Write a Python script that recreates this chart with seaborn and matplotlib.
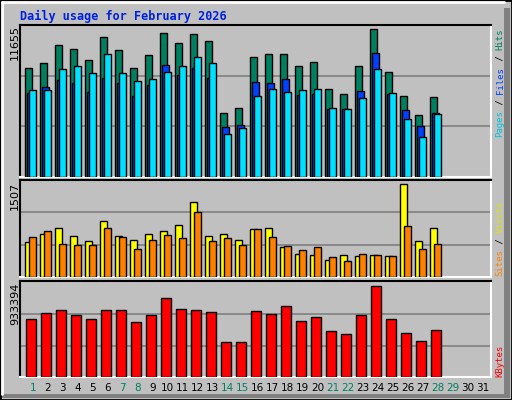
import matplotlib
matplotlib.use("Agg")
import matplotlib.pyplot as plt
import seaborn as sns
import numpy as np
from matplotlib.patches import Rectangle
from matplotlib.lines import Line2D

sns.set_style("white")
plt.rcParams['font.family'] = ['DejaVu Sans']

days = list(range(1, 32))
n_data = 28
hits = [8391, 8777, 10090, 9781, 9009, 10708, 9704, 8391, 9318, 11016, 10244, 10939, 10399, 4918,
        5304, 9164, 9395, 9395, 8546, 8855, 6770, 6384, 8546, 11325, 8083, 6230, 4763, 6153]
files = [6462, 6925, 7465, 7234, 6539, 7620, 7234, 6230, 7079, 8623, 7851, 8392, 7620, 3837,
         3991, 7311, 7234, 7542, 6307, 6384, 5226, 5226, 6616, 9472, 6384, 5149, 3914, 4918]
pages = [6693, 6693, 8314, 8546, 8006, 9395, 8006, 7388, 7542, 8083, 8546, 9164, 8778, 3296,
         3760, 6230, 6770, 6539, 6693, 6770, 5304, 5226, 6076, 8314, 6462, 4454, 3065, 4840]
visits = [549, 675, 754, 644, 565, 863, 644, 581, 675, 722, 801, 1162, 644, 675, 581, 738, 769,
          471, 361, 345, 267, 345, 330, 345, 330, 1444, 565, 754]
sites = [628, 722, 518, 502, 502, 754, 628, 440, 581, 659, 612, 1005, 565, 612, 502, 738, 628,
         487, 424, 471, 314, 251, 361, 345, 330, 785, 440, 518]
kbytes = [575000, 634000, 664000, 615000, 575000, 664000, 664000, 546000, 615000, 782000, 674000,
          664000, 644000, 348000, 348000, 654000, 625000, 703000, 556000, 595000, 457000, 427000,
          615000, 901000, 575000, 437000, 358000, 467000]
max_hits = 11655
max_visits = 1507
max_kb = 933394
weekend_days = [1, 7, 8, 14, 15, 21, 22, 28, 29]
title = "Daily usage for February 2026"

BG = "#c0c0c0"
W, H = 512, 400
fig = plt.figure(figsize=(W / 100, H / 100), dpi=100)
fig.patch.set_facecolor(BG)

# outer frame / bevel
fig.add_artist(Rectangle((0, 0), 1, 1, transform=fig.transFigure, fill=False, ec="black", lw=2))
fig.add_artist(Line2D([2/W, 1 - 8/W], [1 - 2/H, 1 - 2/H], transform=fig.transFigure, color="white", lw=2))
fig.add_artist(Line2D([2/W, 2/W], [6/H, 1 - 2/H], transform=fig.transFigure, color="white", lw=2))
fig.add_artist(Rectangle((1 - 8/W, 2/H), 6/W, 1 - 10/H, transform=fig.transFigure, color="#808080", lw=0))
fig.add_artist(Rectangle((2/W, 2/H), 1 - 4/W, 4/H, transform=fig.transFigure, color="#808080", lw=0))

def panel(y0, y1):
    ax = fig.add_axes([20 / W, 1 - y1 / H, 471 / W, (y1 - y0) / H])
    ax.set_facecolor(BG)
    ax.set_xlim(0, 31.4)
    for s in ["top", "left"]:
        ax.spines[s].set_color("black"); ax.spines[s].set_linewidth(1.5)
    for s in ["right", "bottom"]:
        ax.spines[s].set_color("white"); ax.spines[s].set_linewidth(1.5)
    ax.set_xticks([]); ax.set_yticks([])
    return ax

x = np.arange(n_data)
ew = dict(edgecolor="black", linewidth=1, align="edge", zorder=3)

ax1 = panel(25, 177)
ax1.set_ylim(0, max_hits)
for g in (1/3, 2/3):
    ax1.axhline(max_hits * g, color="#808080", lw=1.2, zorder=1)
ax1.bar(x + 0.35, hits, width=0.47, color="#008060", **ew)
ax1.bar(x + 0.48, files, width=0.47, color="#0040ff", **ew)
ax1.bar(x + 0.62, pages, width=0.47, color="#00e0ff", **ew)

ax2 = panel(180, 277)
ax2.set_ylim(0, max_visits)
for g in (1/3, 2/3):
    ax2.axhline(max_visits * g, color="#808080", lw=1.2, zorder=1)
ax2.bar(x + 0.35, visits, width=0.47, color="#ffff00", **ew)
ax2.bar(x + 0.62, sites, width=0.47, color="#ff8000", **ew)

ax3 = panel(281, 377)
ax3.set_ylim(0, max_kb * 1.02)
for g in (1/3, 2/3):
    ax3.axhline(max_kb * g, color="#808080", lw=1.2, zorder=1)
ax3.bar(x + 0.4, kbytes, width=0.67, color="#ff0000", **ew)
ax3.set_xticks([d - 1 + 0.85 for d in days])
ax3.set_xticklabels([str(d) for d in days], fontsize=7.5)
ax3.tick_params(axis="x", length=0, pad=4)
for lab, d in zip(ax3.get_xticklabels(), days):
    lab.set_color("#008060" if d in weekend_days else "black")

fig.text(20 / W, 1 - 16 / H, title, fontsize=8.5, fontweight="bold", color="#0020e0",
         family="DejaVu Sans Mono", va="center", ha="left")

def lefttext(s, ytop):
    fig.text(15 / W, 1 - ytop / H, s, rotation=90, fontsize=8, va="top", ha="center", color="black")
lefttext(str(max_hits), 25)
lefttext(str(max_visits), 182)
lefttext(str(max_kb), 283)

fs = 6.5
adv = 0.602 * fs * 100 / 72
def righttext(parts, ybottom):
    y = ybottom
    for s, c in parts:
        fig.text(500 / W, 1 - y / H, s, rotation=90, fontsize=fs, va="bottom", ha="center",
                 color=c, family="DejaVu Sans Mono")
        y -= len(s) * adv
righttext([("Pages", "#00c0e0"), (" / ", "black"), ("Files", "#0040ff"), (" / ", "black"),
           ("Hits", "#008060")], 137)
righttext([("Sites", "#ff8000"), (" / ", "black"), ("Visits", "#e0e000")], 276)
righttext([("KBytes", "#ff0000")], 377)

fig.savefig("out.png", dpi=100, facecolor=BG)
